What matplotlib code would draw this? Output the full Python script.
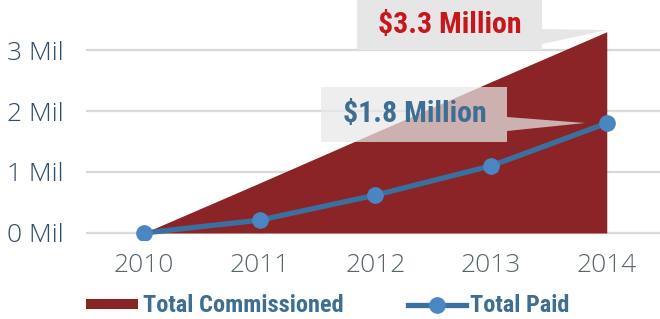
import matplotlib
matplotlib.use("Agg")
import matplotlib.pyplot as plt
import matplotlib.transforms as mtrans
from matplotlib.patches import Polygon, Rectangle
from matplotlib.lines import Line2D

years = [2010, 2011, 2012, 2013, 2014]
total_commissioned = [0.0, 0.82, 1.65, 2.48, 3.3]
total_paid = [0.0, 0.21, 0.62, 1.1, 1.8]
y_ticks = [0, 1, 2, 3]
y_tick_labels = ["0 Mil", "1 Mil", "2 Mil", "3 Mil"]
label_comm = "$3.3 Million"
label_paid = "$1.8 Million"

W, H = 660, 319
fig = plt.figure(figsize=(W / 100, H / 100), dpi=100)

def fx(px):
    return px / W

def fy(py):
    return 1 - py / H

ax = fig.add_axes([fx(86), fy(240), fx(660) - fx(86), fy(0) - fy(240)])
ax.set_xlim(2009.5, 2014.46)
ax.set_ylim(-0.115, 3.82)

red = "#8a2427"
blue_line = "#3a70a0"
blue_marker = "#4a86c2"
tick_col_y = "#2f4c6c"
tick_col_x = "#56676a"
text_blue = "#3e6e92"
cond = ["Roboto Condensed", "DejaVu Sans"]
light = ["Open Sans", "DejaVu Sans"]

for t in y_ticks:
    ax.axhline(t, color="#d9d9d9", lw=1.6, zorder=0)

ax.fill_between(years, 0, total_commissioned, color=red, lw=0, zorder=2)
ax.plot(years, total_paid, color=blue_line, lw=3.8, marker="o", ms=11,
        mfc=blue_marker, mec=blue_marker, zorder=4)

for s in ax.spines.values():
    s.set_visible(False)
ax.set_yticks(y_ticks)
ax.set_yticklabels(y_tick_labels)
ax.set_xticks(years)
ax.set_xticklabels([str(y) for y in years])
ax.tick_params(axis="both", length=0)
ax.tick_params(axis="y", pad=0, labelsize=19, labelcolor=tick_col_y)
ax.tick_params(axis="x", pad=9, labelsize=19, labelcolor=tick_col_x)
for lab in ax.get_yticklabels() + ax.get_xticklabels():
    lab.set_fontfamily(light)
    lab.set_fontweight(300)
ytrans = mtrans.blended_transform_factory(fig.transFigure, ax.transData)
for lab in ax.get_yticklabels():
    lab.set_horizontalalignment("left")
    lab.set_transform(ytrans)
    lab.set_x(fx(7))

def px2fig(pts):
    return [(fx(x), fy(y)) for x, y in pts]

box1 = px2fig([(357, 0), (542, 0), (542, 29), (607, 30), (542, 44), (542, 50), (357, 50)])
fig.patches.append(Polygon(box1, closed=True, transform=fig.transFigure,
                           facecolor="#e6e6e6", edgecolor="none", zorder=5))
fig.text(fx(450), fy(25), label_comm, color="#c8161d", fontsize=21.5, fontweight="bold",
         family=cond, ha="center", va="center", zorder=6)

box2 = px2fig([(321, 87), (507, 87), (507, 117), (585, 123), (507, 131), (507, 142), (321, 142)])
fig.patches.append(Polygon(box2, closed=True, transform=fig.transFigure,
                           facecolor="#e8e8e8", edgecolor="none", alpha=0.72, zorder=5))
fig.text(fx(415), fy(114), label_paid, color=text_blue, fontsize=21.5, fontweight="bold",
         family=cond, ha="center", va="center", zorder=6)

# legend
fig.patches.append(Rectangle((fx(86), fy(309)), fx(138) - fx(86), fy(299) - fy(309),
                             transform=fig.transFigure, facecolor=red, edgecolor="none"))
fig.text(fx(143), fy(305), "Total Commissioned", color=text_blue, fontsize=17.6,
         fontweight="bold", family=cond, ha="left", va="center")
fig.lines.append(Line2D([fx(408), fx(466)], [fy(305), fy(305)], transform=fig.transFigure,
                        color=blue_line, lw=3.8))
fig.lines.append(Line2D([fx(437)], [fy(305)], transform=fig.transFigure,
                        color=blue_marker, marker="o", ms=11, lw=0))
fig.text(fx(470), fy(305), "Total Paid", color=text_blue, fontsize=17.6,
         fontweight="bold", family=cond, ha="left", va="center")

fig.savefig("out.png", dpi=100)
